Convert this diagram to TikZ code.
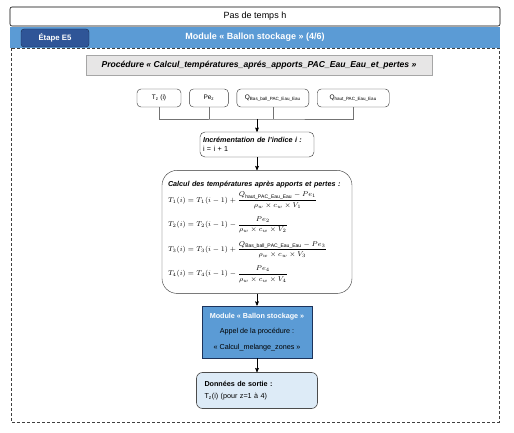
\documentclass[tikz,border=0pt]{standalone}
\usepackage{fontspec}
\setmainfont{Liberation Sans}
\usepackage{amsmath}
\usepackage{xcolor}
\usetikzlibrary{arrows,positioning}

\definecolor{bandblue}{HTML}{5B9BD5}
\definecolor{etapeblue}{HTML}{2F5597}
\definecolor{procgray}{HTML}{E7E6E6}
\definecolor{sortieblue}{HTML}{DDEBF7}

\begin{document}
\begin{tikzpicture}[x=1pt,y=-1pt,>=stealth',
 small/.style={font=\fontsize{7.2}{8.6}\selectfont},
 big/.style={font=\fontsize{9}{11}\selectfont},
 box/.style={small,draw=black!80,fill=white,inner sep=2pt},
 inbox/.style={draw=black!80,fill=white,rounded corners=4pt,minimum height=18pt,inner sep=1pt,
   font=\fontsize{6.5}{7.5}\selectfont},
 frame/.style={draw=black!75,dash pattern=on 3pt off 2pt,line width=0.5pt},
 wire/.style={draw=black!55,line width=0.6pt},
 arr/.style={->,draw=black,line width=0.6pt,shorten >=0pt}]
 \useasboundingbox (0,0) rectangle (514,433);

 % cadre du pas de temps
 \draw[frame] (11,48) rectangle (499,422);
 \node[big,draw=black,rounded corners=2pt,line width=0.6pt,minimum width=490pt,minimum height=19pt] (top) at (255,16.5) {Pas de temps h};
 \node[big,fill=bandblue,minimum width=490pt,minimum height=21pt,text=white,font=\fontsize{9}{11}\selectfont\bfseries] (band) at (255,37.5) {Module « Ballon stockage » (4/6)};
 \node[fill=etapeblue,draw=etapeblue!50!black,rounded corners=3pt,minimum width=68pt,minimum height=18pt,text=white,font=\fontsize{7.8}{9}\selectfont\bfseries] (etape) at (55,38) {Étape E5};

 \node[fill=procgray,draw=black!35,minimum width=346pt,minimum height=20pt,font=\fontsize{8.6}{10}\selectfont\bfseries\itshape] (proc) at (259,65) {Procédure « Calcul\_températures\_aprés\_apports\_PAC\_Eau\_Eau\_et\_pertes »};

 % entrees
 \node[inbox,minimum width=44pt] (tz) at (159,98) {T\textsubscript{z} (i)};
 \node[inbox,minimum width=39pt,right=8pt of tz] (pe) {Pe\textsubscript{z}};
 \node[inbox,minimum width=72pt,right=8pt of pe] (qbas) {Q\textsubscript{Bas\_ball\_PAC\_Eau\_Eau}};
 \node[inbox,minimum width=72pt,right=8pt of qbas] (qhaut) {Q\textsubscript{haut\_PAC\_Eau\_Eau}};

 \coordinate (bus) at (257,119);
 \draw[wire] (tz.south) |- (bus) -| (qhaut.south);
 \draw[wire] (pe.south) -- (pe.south |- bus);
 \draw[wire] (qbas.south) -- (qbas.south |- bus);

 % increment
 \node[box,rounded corners=5pt,inner xsep=3pt,minimum width=114pt,minimum height=25pt,text width=108pt,align=left] (inc) at (257,144.5)
 {\textbf{\textit{Incrémentation de l'indice i :}}\\[1pt] i = i + 1};
 \draw[arr] (bus) -- (inc);

 % calcul
 \node[box,rounded corners=15pt,minimum width=190pt,minimum height=123pt,text width=178pt,align=left,below=13pt of inc] (calc)
 {\textbf{\textit{Calcul des températures après apports et pertes :}}\\[3pt]
 $\displaystyle T_1(i) = T_1(i-1) + \frac{Q_{\mathrm{haut\_PAC\_Eau\_Eau}} - Pe_1}{\rho_w \times c_w \times V_1}$\\[7pt]
 $\displaystyle T_2(i) = T_2(i-1) - \frac{Pe_2}{\rho_w \times c_w \times V_2}$\\[7pt]
 $\displaystyle T_3(i) = T_3(i-1) + \frac{Q_{\mathrm{Bas\_ball\_PAC\_Eau\_Eau}} - Pe_3}{\rho_w \times c_w \times V_3}$\\[7pt]
 $\displaystyle T_4(i) = T_4(i-1) - \frac{Pe_4}{\rho_w \times c_w \times V_4}$};
 \draw[arr] (inc) -- (calc);

 % module
 \node[small,fill=bandblue,draw=etapeblue!60!black,line width=0.6pt,minimum width=110pt,minimum height=52pt,align=center,below=12pt of calc] (module)
 {\textcolor{white}{\textbf{Module « Ballon stockage »}}\\[7pt] Appel de la procédure :\\[7pt] « Calcul\_melange\_zones »};
 \draw[arr] (calc) -- (module);

 % sortie
 \node[box,fill=sortieblue,rounded corners=6pt,draw=black!70,line width=0.6pt,minimum width=121pt,minimum height=36pt,text width=105pt,align=left,below=14pt of module] (sortie)
 {\textbf{Données de sortie :}\\[3pt] T\textsubscript{z}(i) (pour z=1 à 4)};
 \draw[arr] (module) -- (sortie);
\end{tikzpicture}
\end{document}
